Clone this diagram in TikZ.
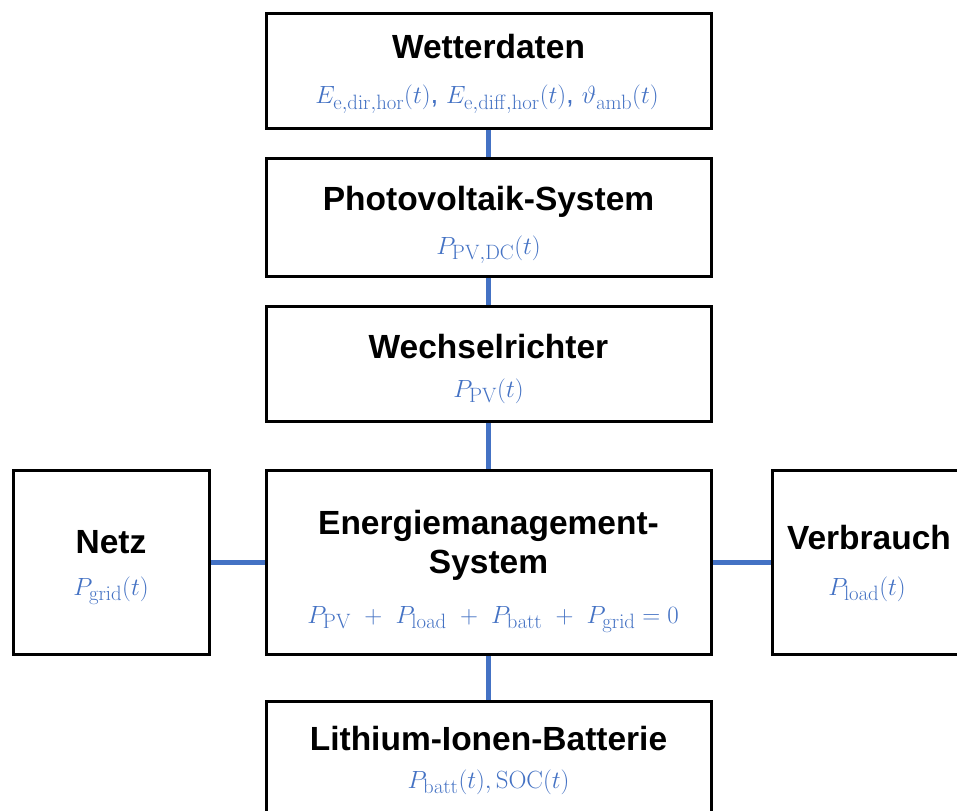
\documentclass[tikz,border=0pt]{standalone}
\usepackage{amsmath}
\usepackage[no-math]{fontspec}
\setmainfont{Liberation Sans}
\usetikzlibrary{backgrounds}
\DeclareMathSizes{28}{28}{21}{16}
\definecolor{eqblue}{HTML}{4472C4}
\tikzset{
  block/.style={draw=black, line width=3pt, fill=white, inner sep=0pt},
  title/.style={font=\fontsize{33.5}{39}\selectfont\bfseries, anchor=base, inner sep=0pt, align=center},
  eq/.style={text=eqblue, font=\fontsize{28}{32}\selectfont, anchor=base, inner sep=0pt},
  link/.style={draw=eqblue, line width=5pt},
}
\begin{document}
\begin{tikzpicture}[x=1pt, y=-1pt]
  \useasboundingbox (0,0) rectangle (957,810);
  \clip (0,0) rectangle (957,810);

  % blocks
  \node[block, minimum width=445, minimum height=115] (wetter) at (488.5,71.5) {};
  \node[block, minimum width=445, minimum height=117] (pv) at (488.5,217.5) {};
  \node[block, minimum width=445, minimum height=115] (wr) at (488.5,363.5) {};
  \node[block, minimum width=445, minimum height=184] (ems) at (488.5,562) {};
  \node[block, minimum width=196, minimum height=184] (netz) at (111,562) {};
  \node[block, minimum width=193, minimum height=184] (verb) at (868.5,562) {};
  \node[block, minimum width=445, minimum height=117] (batt) at (488.5,759.5) {};

  % connections
  \begin{scope}[on background layer]
    \draw[link] (wetter.south) -- (pv.north);
    \draw[link] (pv.south) -- (wr.north);
    \draw[link] (wr.south) -- (ems.north);
    \draw[link] (ems.south) -- (batt.north);
    \draw[link] (netz.east) -- (ems.west);
    \draw[link] (ems.east) -- (verb.west);
  \end{scope}

  % labels
  \node[title] (wetter-t) at (488.5,59) {Wetterdaten};
  \node[eq] (wetter-m) at (487,104) {$E_{\mathrm{e,dir,hor}}(t)$, $E_{\mathrm{e,diff,hor}}(t)$, $\vartheta_{\mathrm{amb}}(t)$};

  \node[title] (pv-t) at (488.5,211) {Photovoltaik-System};
  \node[eq] (pv-m) at (488.5,254) {$P_{\mathrm{PV,DC}}(t)$};

  \node[title] (wr-t) at (488.5,358) {Wechselrichter};
  \node[eq] (wr-m) at (488.5,397) {$P_{\mathrm{PV}}(t)$};

  \node[title] (ems-t) at (488.5,573) {Energiemanagement-\\System};
  \node[eq] (ems-m) at (493,623) {$P_{\mathrm{PV}}\ +\ P_{\mathrm{load}}\ +\ P_{\mathrm{batt}}\ +\ P_{\mathrm{grid}}=0$};

  \node[title] (netz-t) at (111,553) {Netz};
  \node[eq] (netz-m) at (111,595) {$P_{\mathrm{grid}}(t)$};

  \node[title] (verb-t) at (869,549) {Verbrauch};
  \node[eq] (verb-m) at (867,595) {$P_{\mathrm{load}}(t)$};

  \node[title] (batt-t) at (488.5,750) {Lithium-Ionen-Batterie};
  \node[eq] (batt-m) at (488.5,788) {$P_{\mathrm{batt}}(t), \mathrm{SOC}(t)$};
\end{tikzpicture}
\end{document}
